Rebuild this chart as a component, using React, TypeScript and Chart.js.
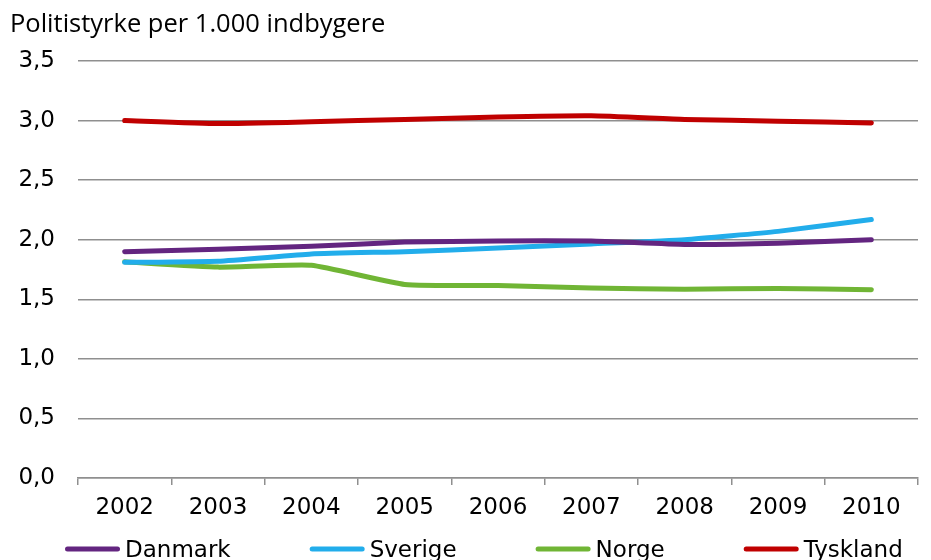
import React, { useEffect, useRef } from "react";
import { Chart, registerables } from "chart.js";

Chart.register(...registerables);

const TITLE = "Politistyrke per 1.000 indbygere";
const YEARS = ["2002", "2003", "2004", "2005", "2006", "2007", "2008", "2009", "2010"];
const DANMARK = [1.9, 1.92, 1.945, 1.98, 1.99, 1.99, 1.96, 1.97, 2.0];
const SVERIGE = [1.81, 1.82, 1.88, 1.9, 1.93, 1.965, 2.0, 2.07, 2.17];
const NORGE = [1.815, 1.77, 1.785, 1.625, 1.615, 1.595, 1.585, 1.59, 1.58];
const TYSKLAND = [3.0, 2.975, 2.99, 3.01, 3.03, 3.04, 3.01, 2.995, 2.98];

const GRID = "#8f8f8f";
const FONT = "DejaVu Sans";

const overlayPlugin = {
  id: "overlay",
  afterDraw(chart: any) {
    const ctx = chart.ctx as CanvasRenderingContext2D;
    ctx.save();
    ctx.fillStyle = "#000";
    ctx.font = '25.5px "Open Sans"';
    ctx.textBaseline = "alphabetic";
    ctx.textAlign = "left";
    ctx.fillText(TITLE, 10, 32);
    ctx.font = `23px "${FONT}"`;
    let x = 65;
    const lineY = chart.height - 11;
    chart.data.datasets.forEach((ds: any) => {
      ctx.strokeStyle = ds.borderColor;
      ctx.lineWidth = 5;
      ctx.lineCap = "round";
      ctx.beginPath();
      ctx.moveTo(x + 2.5, lineY);
      ctx.lineTo(x + 52.5, lineY);
      ctx.stroke();
      x += 60;
      ctx.fillStyle = "#000";
      ctx.fillText(ds.label, x, chart.height - 3);
      x += ctx.measureText(ds.label).width + 79;
    });
    ctx.restore();
  },
};

export default function App() {
  const ref = useRef<HTMLCanvasElement | null>(null);
  useEffect(() => {
    document.body.style.margin = "0";
    if (!ref.current) return;
    const mk = (label: string, data: number[], color: string) => ({
      label,
      data,
      borderColor: color,
      backgroundColor: color,
      borderWidth: 5,
      pointRadius: 0,
      borderCapStyle: "round" as const,
      borderJoinStyle: "round" as const,
      tension: 0.15,
      fill: false,
    });
    const chart = new Chart(ref.current, {
      type: "line",
      data: {
        labels: YEARS,
        datasets: [
          mk("Danmark", DANMARK, "#632580"),
          mk("Sverige", SVERIGE, "#22ADEB"),
          mk("Norge", NORGE, "#70B535"),
          mk("Tyskland", TYSKLAND, "#C00000"),
        ],
      },
      options: {
        animation: false,
        responsive: false,
        layout: { padding: { top: 61, left: 0, right: 13, bottom: 0 } },
        plugins: {
          legend: { display: false },
          title: { display: false },
          tooltip: { enabled: false },
        },
        scales: {
          x: {
            offset: true,
            afterFit: (s: any) => { s.height = 82; },
            grid: {
              offset: true,
              drawOnChartArea: false,
              drawTicks: true,
              tickLength: 7,
              color: GRID,
              lineWidth: 1.5,
            },
            border: { display: true, color: GRID, width: 1.5 },
            ticks: { color: "#000", font: { family: FONT, size: 23 }, padding: 9, maxRotation: 0 },
          },
          y: {
            min: 0,
            max: 3.5,
            afterFit: (s: any) => { s.width = 78; },
            ticks: {
              stepSize: 0.5,
              color: "#000",
              font: { family: FONT, size: 23 },
              padding: 23,
              callback: (v: any) => Number(v).toFixed(1).replace(".", ","),
            },
            grid: { drawTicks: false, color: GRID, lineWidth: 1.5 },
            border: { display: false },
          },
        },
      },
      plugins: [overlayPlugin],
    });
    return () => chart.destroy();
  }, []);
  return (
    <div style={{ width: 931, height: 560 }}>
      <canvas ref={ref} width={931} height={560} style={{ width: 931, height: 560, display: "block" }} />
    </div>
  );
}
